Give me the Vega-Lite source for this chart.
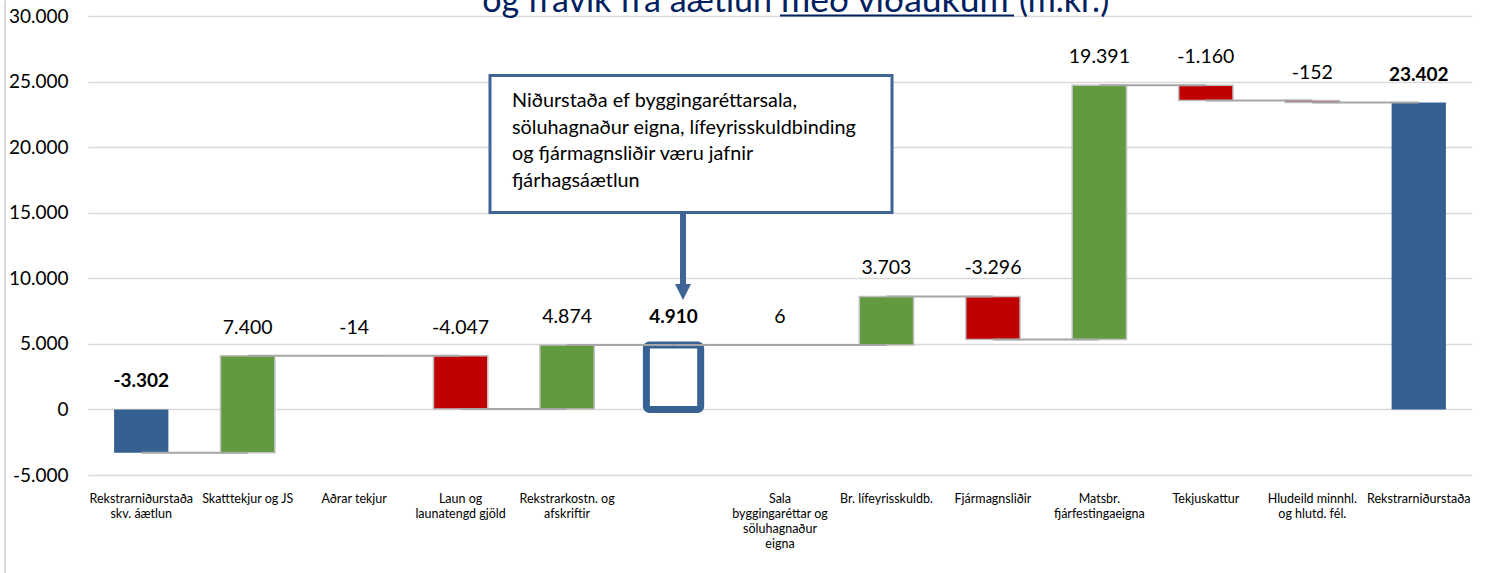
{
  "$schema": "https://vega.github.io/schema/vega-lite/v6.json",
  "width": 1384,
  "height": 459,
  "autosize": {"type": "none"},
  "padding": {"left": 88, "top": 16, "right": 16, "bottom": 98},
  "background": "white",
  "config": {
    "locale": {"number": {"decimal": ",", "thousands": ".", "grouping": [3], "currency": ["", ""], "minus": "-"}},
    "view": {"stroke": null},
    "font": "Lato"
  },
  "resolve": {"scale": {"x": "independent"}, "axis": {"x": "independent"}},
  "layer": [
    {
      "data": {
        "values": [
          {"cat": "Rekstrarniðurstaða\nskv. áætlun", "amount": -3302, "start": 0, "end": -3302, "kind": "total", "next": "Skatttekjur og JS"},
          {"cat": "Skatttekjur og JS", "amount": 7400, "start": -3302, "end": 4098, "kind": "up", "next": "Aðrar tekjur"},
          {"cat": "Aðrar tekjur", "amount": -14, "start": 4098, "end": 4084, "kind": "down", "next": "Laun og\nlaunatengd gjöld"},
          {"cat": "Laun og\nlaunatengd gjöld", "amount": -4047, "start": 4084, "end": 37, "kind": "down", "next": "Rekstrarkostn. og\nafskriftir"},
          {"cat": "Rekstrarkostn. og\nafskriftir", "amount": 4874, "start": 37, "end": 4911, "kind": "up", "next": " "},
          {"cat": " ", "amount": 4910, "start": 0, "end": 4910, "kind": "subtotal", "next": "Sala\nbyggingaréttar og\nsöluhagnaður\neigna"},
          {"cat": "Sala\nbyggingaréttar og\nsöluhagnaður\neigna", "amount": 6, "start": 4910, "end": 4916, "kind": "up", "next": "Br. lífeyrisskuldb."},
          {"cat": "Br. lífeyrisskuldb.", "amount": 3703, "start": 4916, "end": 8619, "kind": "up", "next": "Fjármagnsliðir"},
          {"cat": "Fjármagnsliðir", "amount": -3296, "start": 8619, "end": 5323, "kind": "down", "next": "Matsbr.\nfjárfestingaeigna"},
          {"cat": "Matsbr.\nfjárfestingaeigna", "amount": 19391, "start": 5323, "end": 24714, "kind": "up", "next": "Tekjuskattur"},
          {"cat": "Tekjuskattur", "amount": -1160, "start": 24714, "end": 23554, "kind": "down", "next": "Hludeild minnhl.\nog hlutd. fél."},
          {"cat": "Hludeild minnhl.\nog hlutd. fél.", "amount": -152, "start": 23554, "end": 23402, "kind": "down", "next": "Rekstrarniðurstaða"},
          {"cat": "Rekstrarniðurstaða", "amount": 23402, "start": 0, "end": 23402, "kind": "total", "next": null}
        ]
      },
      "transform": [{"calculate": "max(datum.start, datum.end)", "as": "top"}],
      "encoding": {
        "x": {
          "field": "cat", "type": "nominal", "sort": null, "title": null,
          "scale": {
            "domain": [
              "Rekstrarniðurstaða\nskv. áætlun", "Skatttekjur og JS", "Aðrar tekjur", "Laun og\nlaunatengd gjöld",
              "Rekstrarkostn. og\nafskriftir", " ", "Sala\nbyggingaréttar og\nsöluhagnaður\neigna", "Br. lífeyrisskuldb.",
              "Fjármagnsliðir", "Matsbr.\nfjárfestingaeigna", "Tekjuskattur", "Hludeild minnhl.\nog hlutd. fél.", "Rekstrarniðurstaða"
            ],
            "paddingInner": 0.49, "paddingOuter": 0.245
          },
          "axis": {
            "labelExpr": "split(datum.label, '\\n')",
            "labelAngle": 0, "labelFontSize": 12.5, "labelFont": "Lato", "labelColor": "#000",
            "labelLineHeight": 15, "labelPadding": 17, "labelOverlap": false, "labelLimit": 0,
            "labelBound": false, "ticks": false, "domain": false, "grid": false, "labelBaseline": "top"
          }
        }
      },
      "layer": [
        {
          "transform": [{"filter": "datum.kind == 'total'"}],
          "mark": {"type": "bar", "color": "#376092"},
          "encoding": {
            "y": {
              "field": "start", "type": "quantitative", "title": null,
              "scale": {"domain": [-5000, 30000], "nice": false, "zero": false},
              "axis": {
                "values": [-5000, 0, 5000, 10000, 15000, 20000, 25000, 30000],
                "format": ",.0f", "domain": false, "ticks": false, "grid": true,
                "gridColor": "#D9D9D9", "gridWidth": 1.5, "labelFontSize": 19,
                "labelFont": "Lato", "labelColor": "#000", "labelPadding": 20
              }
            },
            "y2": {"field": "end"}
          }
        },
        {
          "transform": [{"filter": "datum.kind == 'up' || datum.kind == 'down'"}],
          "mark": {"type": "bar", "stroke": "#BFBFBF", "strokeWidth": 1.5},
          "encoding": {
            "y": {"field": "start", "type": "quantitative", "scale": {"domain": [-5000, 30000], "nice": false, "zero": false}},
            "y2": {"field": "end"},
            "color": {
              "field": "kind", "type": "nominal", "legend": null,
              "scale": {"domain": ["up", "down"], "range": ["#629B3F", "#C00000"]}
            }
          }
        },
        {
          "transform": [{"filter": "datum.kind == 'subtotal'"}],
          "mark": {"type": "bar", "fill": "white", "stroke": "#386294", "strokeWidth": 7, "cornerRadius": 3},
          "encoding": {
            "y": {"field": "start", "type": "quantitative", "scale": {"domain": [-5000, 30000], "nice": false, "zero": false}},
            "y2": {"field": "end"}
          }
        },
        {
          "transform": [{"filter": "datum.next != null"}],
          "mark": {"type": "rule", "color": "#A6A6A6", "strokeWidth": 2},
          "encoding": {
            "x2": {"field": "next"},
            "y": {"field": "end", "type": "quantitative", "scale": {"domain": [-5000, 30000], "nice": false, "zero": false}}
          }
        },
        {
          "transform": [{"filter": "datum.kind == 'up' || datum.kind == 'down'"}],
          "mark": {"type": "text", "dy": -28, "fontSize": 19.5, "font": "Lato", "color": "#000", "baseline": "middle"},
          "encoding": {
            "y": {"field": "top", "type": "quantitative", "scale": {"domain": [-5000, 30000], "nice": false, "zero": false}},
            "text": {"field": "amount", "type": "quantitative", "format": ",.0f"}
          }
        },
        {
          "transform": [{"filter": "datum.kind == 'total' || datum.kind == 'subtotal'"}],
          "mark": {"type": "text", "dy": -28, "fontSize": 19, "font": "Lato", "fontWeight": "bold", "color": "#000", "baseline": "middle"},
          "encoding": {
            "y": {"field": "top", "type": "quantitative", "scale": {"domain": [-5000, 30000], "nice": false, "zero": false}},
            "text": {"field": "amount", "type": "quantitative", "format": ",.0f"}
          }
        }
      ]
    },
    {
      "data": {"values": [{}]},
      "layer": [
        {
          "mark": {"type": "rule", "color": "#D9D9D9", "strokeWidth": 2},
          "encoding": {
            "x": {"datum": -0.78, "type": "quantitative", "scale": {"domain": [0, 13], "nice": false, "zero": false}, "axis": null},
            "y": {"datum": 31190, "type": "quantitative", "scale": {"domain": [-5000, 30000], "nice": false, "zero": false}},
            "y2": {"datum": -12505}
          }
        },
        {
          "mark": {"type": "rect", "fill": "white", "stroke": "#3F6596", "strokeWidth": 3},
          "encoding": {
            "x": {"datum": 3.776, "type": "quantitative", "scale": {"domain": [0, 13], "nice": false, "zero": false}, "axis": null},
            "x2": {"datum": 7.552},
            "y": {"datum": 25469, "type": "quantitative", "scale": {"domain": [-5000, 30000], "nice": false, "zero": false}},
            "y2": {"datum": 15022}
          }
        },
        {
          "mark": {
            "type": "text", "align": "left", "baseline": "top", "lineBreak": "\n", "lineHeight": 26.5,
            "fontSize": 19.8, "font": "Lato", "color": "#000",
            "text": "Niðurstaða ef byggingaréttarsala,\nsöluhagnaður eigna, lífeyrisskuldbinding\nog fjármagnsliðir væru jafnir\nfjárhagsáætlun"
          },
          "encoding": {
            "x": {"datum": 3.983, "type": "quantitative", "scale": {"domain": [0, 13], "nice": false, "zero": false}, "axis": null},
            "y": {"datum": 24250, "type": "quantitative", "scale": {"domain": [-5000, 30000], "nice": false, "zero": false}}
          }
        },
        {
          "mark": {"type": "rule", "color": "#3F6596", "strokeWidth": 6},
          "encoding": {
            "x": {"datum": 5.589, "type": "quantitative", "scale": {"domain": [0, 13], "nice": false, "zero": false}, "axis": null},
            "y": {"datum": 15022, "type": "quantitative", "scale": {"domain": [-5000, 30000], "nice": false, "zero": false}},
            "y2": {"datum": 9530}
          }
        },
        {
          "mark": {"type": "point", "shape": "M-1,-1L1,-1L0,1Z", "size": 256, "filled": true, "opacity": 1, "color": "#3F6596"},
          "encoding": {
            "x": {"datum": 5.589, "type": "quantitative", "scale": {"domain": [0, 13], "nice": false, "zero": false}, "axis": null},
            "y": {"datum": 8960, "type": "quantitative", "scale": {"domain": [-5000, 30000], "nice": false, "zero": false}}
          }
        },
        {
          "mark": {"type": "text", "align": "right", "baseline": "alphabetic", "fontSize": 34, "font": "Lato", "color": "#002060", "text": "og frávik frá áætlun"},
          "encoding": {
            "x": {"datum": 6.425, "type": "quantitative", "scale": {"domain": [0, 13], "nice": false, "zero": false}, "axis": null},
            "y": {"datum": 30273, "type": "quantitative", "scale": {"domain": [-5000, 30000], "nice": false, "zero": false}}
          }
        },
        {
          "mark": {"type": "text", "align": "left", "baseline": "alphabetic", "fontSize": 35.5, "font": "Lato", "color": "#002060", "text": "með viðaukum"},
          "encoding": {
            "x": {"datum": 6.509, "type": "quantitative", "scale": {"domain": [0, 13], "nice": false, "zero": false}, "axis": null},
            "y": {"datum": 30273, "type": "quantitative", "scale": {"domain": [-5000, 30000], "nice": false, "zero": false}}
          }
        },
        {
          "mark": {"type": "text", "align": "left", "baseline": "alphabetic", "fontSize": 34, "font": "Lato", "color": "#002060", "text": "(m.kr.)"},
          "encoding": {
            "x": {"datum": 8.745, "type": "quantitative", "scale": {"domain": [0, 13], "nice": false, "zero": false}, "axis": null},
            "y": {"datum": 30273, "type": "quantitative", "scale": {"domain": [-5000, 30000], "nice": false, "zero": false}}
          }
        },
        {
          "mark": {"type": "rule", "color": "#002060", "strokeWidth": 2},
          "encoding": {
            "x": {"datum": 6.5, "type": "quantitative", "scale": {"domain": [0, 13], "nice": false, "zero": false}, "axis": null},
            "x2": {"datum": 8.698},
            "y": {"datum": 30044, "type": "quantitative", "scale": {"domain": [-5000, 30000], "nice": false, "zero": false}}
          }
        }
      ]
    }
  ]
}
